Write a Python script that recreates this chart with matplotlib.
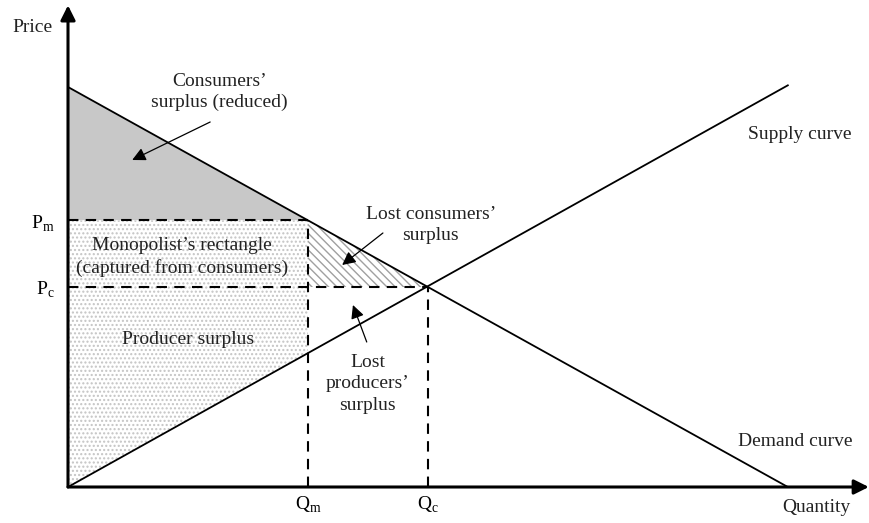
import numpy as np
import matplotlib
matplotlib.use("Agg")
import matplotlib.pyplot as plt
from matplotlib.patches import Polygon

plt.rcParams['font.family'] = ['Liberation Serif', 'DejaVu Serif']
plt.rcParams['mathtext.fontset'] = 'custom'
plt.rcParams['mathtext.rm'] = 'Liberation Serif'
plt.rcParams['hatch.linewidth'] = 1.0

# --- model values (linear demand / supply) ---
Q_MAX = 12.0          # demand intercept on quantity axis
P_MAX = 12.0          # demand intercept on price axis
q_line = np.array([0.0, 12.0])
demand = P_MAX - P_MAX / Q_MAX * q_line
supply = np.array([0.0, 12.05])

Qm, Pm = 4.0, 8.0     # monopoly quantity / price
Qc, Pc = 6.0, 6.0     # competitive quantity / price
S_at_Qm = 4.0         # supply price at Qm

fig = plt.figure(figsize=(8.7, 5.23), dpi=100)
ax = fig.add_axes([68 / 870, 36 / 523, 802 / 870, 487 / 523])
ax.set_xlim(0, 13.37)
ax.set_ylim(0, 14.61)
ax.axis('off')

# --- shaded areas ---
ax.add_patch(Polygon([(0, P_MAX), (Qm, Pm), (0, Pm)], closed=True,
                     facecolor='#c8c8c8', edgecolor='none', zorder=1))
ax.add_patch(Polygon([(0, Pm), (Qm, Pm), (Qm, S_at_Qm), (0, 0)], closed=True,
                     facecolor='white', edgecolor='#c4c4c4', hatch='....',
                     linewidth=0, zorder=1))
ax.add_patch(Polygon([(Qm, Pm), (Qc, Pc), (Qm, Pc)], closed=True,
                     facecolor='white', edgecolor='#a0a0a0', hatch='\\\\\\\\',
                     linewidth=0, zorder=1))

# --- dashed guides ---
dash = dict(color='black', lw=1.5, dashes=(5, 3.5), zorder=2)
ax.plot([0, Qm], [Pm, Pm], **dash)
ax.plot([0, Qc], [Pc, Pc], **dash)
ax.plot([Qm, Qm], [0, Pm], **dash)
ax.plot([Qc, Qc], [0, Pc], **dash)

# --- curves ---
ax.plot(q_line, demand, color='black', lw=1.3, zorder=3)
ax.plot(q_line, supply, color='black', lw=1.3, zorder=3)

# --- axes with arrows ---
ax.annotate('', xy=(0, 14.45), xytext=(0, 0),
            arrowprops=dict(arrowstyle='-|>', color='black', lw=2.2,
                            mutation_scale=22, shrinkA=0, shrinkB=0), zorder=4)
ax.annotate('', xy=(13.35, 0), xytext=(0, 0),
            arrowprops=dict(arrowstyle='-|>', color='black', lw=2.2,
                            mutation_scale=22, shrinkA=0, shrinkB=0), zorder=4)

fs = 14
txt = dict(fontsize=fs, ha='center', va='center', color='#222222', linespacing=1.35)

ax.text(-0.6, 13.8, 'Price', clip_on=False, **txt)
ax.text(12.47, -0.63, 'Quantity', clip_on=False, **txt)
ax.text(-0.22, Pm - 0.1, r'P$_\mathrm{m}$', fontsize=fs, ha='right', va='center', clip_on=False)
ax.text(-0.22, Pc - 0.1, r'P$_\mathrm{c}$', fontsize=fs, ha='right', va='center', clip_on=False)
ax.text(Qm, -0.55, r'Q$_\mathrm{m}$', fontsize=fs, ha='center', va='center', clip_on=False)
ax.text(Qc, -0.55, r'Q$_\mathrm{c}$', fontsize=fs, ha='center', va='center', clip_on=False)

ax.text(2.53, 11.85, 'Consumers’\nsurplus (reduced)', **txt)
ax.text(1.9, 6.9, 'Monopolist’s rectangle\n(captured from consumers)', **txt)
ax.text(6.05, 7.86, 'Lost consumers’\nsurplus', **txt)
ax.text(2.0, 4.41, 'Producer surplus', **txt)
ax.text(5.0, 3.1, 'Lost\nproducers’\nsurplus', **txt)
ax.text(12.2, 10.59, 'Supply curve', **txt)
ax.text(12.12, 1.35, 'Demand curve', **txt)

arr = dict(arrowstyle='-|>', color='black', lw=0.9, mutation_scale=20,
           shrinkA=0, shrinkB=0)
ax.annotate('', xy=(1.07, 9.81), xytext=(2.37, 10.95), arrowprops=arr, zorder=5)
ax.annotate('', xy=(4.57, 6.66), xytext=(5.25, 7.62), arrowprops=arr, zorder=5)
ax.annotate('', xy=(4.75, 5.46), xytext=(4.98, 4.35), arrowprops=arr, zorder=5)

fig.savefig('out.png', dpi=100)
